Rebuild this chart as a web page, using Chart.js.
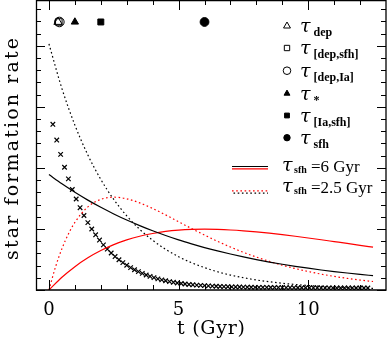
<!DOCTYPE html>
<html><head><meta charset="utf-8">
<script src="https://cdn.jsdelivr.net/npm/chart.js@4.4.0/dist/chart.umd.min.js"></script>
<style>html,body{margin:0;padding:0;background:#fff}#wrap{width:388px;height:341px;position:relative}</style>
</head><body><div id="wrap"><canvas id="c"></canvas></div>
<script>
// time grid (Gyr) for the smooth curves
const curveT = [0,0.5,1,1.5,2,2.5,3,3.5,4,4.5,5,5.5,6,6.5,7,7.5,8,8.5,9,9.5,10,10.5,11,11.5,12,12.5];
// black solid: tau_sfh = 6 Gyr, exponential
const expSfh6 = [1.890,1.739,1.600,1.472,1.354,1.246,1.146,1.055,0.970,0.893,0.821,0.756,0.695,0.640,0.589,0.542,0.498,0.458,0.422,0.388,0.357,0.328,0.302,0.278,0.256,0.235];
// black dotted: tau_sfh = 2.5 Gyr, exponential
const expSfh25 = [4.030,3.299,2.701,2.212,1.811,1.483,1.214,0.994,0.814,0.666,0.545,0.447,0.366,0.299,0.245,0.201,0.164,0.135,0.110,0.090,0.074,0.060,0.050,0.041,0.033,0.027];
// red solid: tau_sfh = 6 Gyr, delayed
const delSfh6 = [0,0.208,0.382,0.527,0.646,0.743,0.821,0.881,0.926,0.959,0.980,0.992,0.996,0.992,0.983,0.969,0.951,0.930,0.906,0.880,0.852,0.823,0.793,0.763,0.732,0.702];
// red dotted: tau_sfh = 2.5 Gyr, delayed (denser grid at start)
const delT25 = [0,0.25,0.5,0.75,1,1.5,2,2.5,3,3.5,4,4.5,5,5.5,6,6.5,7,7.5,8,8.5,9,9.5,10,10.5,11,11.5,12,12.5];
const delSfh25 = [0,0.374,0.677,0.918,1.108,1.361,1.485,1.520,1.494,1.427,1.335,1.230,1.118,1.007,0.900,0.798,0.704,0.617,0.539,0.469,0.406,0.351,0.303,0.260,0.223,0.191,0.163,0.139];
// crosses, one every 0.15 Gyr starting at 0.15 Gyr
const crossValues = [2.714,2.456,2.222,2.011,1.820,1.646,1.490,1.348,1.220,1.104,0.999,0.904,0.818,0.740,0.669,0.606,0.548,0.496,0.449,0.406,0.367,0.332,0.301,0.272,0.246,0.223,0.202,0.183,0.166,0.151,0.138,0.126,0.115,0.106,0.098,0.091,0.085,0.080,0.075,0.071,0.067,0.064,0.061,0.058,0.056,0.054,0.052,0.050,0.049,0.047,0.046,0.045,0.044,0.043,0.042,0.042,0.041,0.040,0.040,0.039,0.039,0.038,0.038,0.037,0.037,0.037,0.036,0.036,0.036,0.035,0.035,0.035,0.035,0.034,0.034,0.034,0.034,0.034,0.033,0.033,0.033,0.033];
const crossT = crossValues.map((v, i) => +(0.15 * (i + 1)).toFixed(2));
// timescale markers along the top
const markerNames = ['dep', '[dep,sfh]', '[dep,Ia]', '*', '[Ia,sfh]', 'sfh'];
const markerT = [0.35, 0.38, 0.40, 1.0, 2.0, 6.0];
const markerY = [4.39, 4.39, 4.39, 4.39, 4.39, 4.39];
const markerStyles = ['triangle', 'rect', 'circle', 'triangle', 'rect', 'circle'];
const markerFilled = [false, false, false, true, true, true];
const xTickValues = [0, 5, 10];
const xTickLabels = ['0', '5', '10'];
const lineLegend = ['=6 Gyr', '=2.5 Gyr'];

const pts = (xs, ys) => xs.map((x, i) => ({x, y: ys[i]}));
const DOT = [1.6, 2.6];

const frame = {
  id: 'frame',
  afterDraw(chart) {
    const ctx = chart.ctx, xs = chart.scales.x, ys = chart.scales.y;
    ctx.save();
    ctx.strokeStyle = '#000';
    ctx.lineWidth = 1.3;
    ctx.beginPath();
    ctx.moveTo(36.5, 0.5); ctx.lineTo(386, 0.5); ctx.lineTo(386, 290); ctx.lineTo(36.5, 290); ctx.closePath();
    ctx.stroke();
    ctx.lineWidth = 1;
    ctx.beginPath();
    for (let t = 0; t <= 12; t++) {
      const px = Math.round(xs.getPixelForValue(t)) + 0.5;
      const len = t % 5 === 0 ? 10 : 5;
      ctx.moveTo(px, 290); ctx.lineTo(px, 290 - len);
      ctx.moveTo(px, 0); ctx.lineTo(px, len);
    }
    for (let i = 0; i <= 23; i++) {
      const py = Math.round(ys.getPixelForValue(i * 0.2)) + 0.5;
      const len = i % 5 === 0 ? 9 : 5;
      ctx.moveTo(36, py); ctx.lineTo(36 + len, py);
      ctx.moveTo(386, py); ctx.lineTo(386 - len, py);
    }
    ctx.stroke();

    // tick labels
    ctx.fillStyle = '#000';
    ctx.textAlign = 'center';
    ctx.textBaseline = 'alphabetic';
    ctx.font = '18px "DejaVu Serif"';
    xTickValues.forEach((v, i) => ctx.fillText(xTickLabels[i], xs.getPixelForValue(v), 315));
    // x title
    ctx.font = '19px "DejaVu Serif"';
    ctx.textAlign = 'left';
    fitText(ctx, 't (Gyr)', 177, 334, 68);
    // y title
    ctx.save();
    ctx.translate(18, 149);
    ctx.rotate(-Math.PI / 2);
    ctx.font = '19px "DejaVu Serif"';
    fitText(ctx, 'star formation rate', -111, 0, 222);
    ctx.restore();

    // symbol legend
    const rowsY = [26, 48, 70.7, 93.5, 115.5, 137.7];
    const symR = [4, 3.8, 3.8, 3.4, 3.4, 3.2];
    markerNames.forEach((name, i) => {
      ctx.strokeStyle = '#000';
      ctx.fillStyle = markerFilled[i] ? '#000' : 'rgba(0,0,0,0)';
      Chart.helpers.drawPoint(ctx, {pointStyle: markerStyles[i], radius: symR[i], borderWidth: 1, rotation: 0}, 287, rowsY[i]);
      ctx.fillStyle = '#000';
      ctx.textAlign = 'left';
      ctx.font = 'italic 19px "DejaVu Serif"';
      ctx.fillText('\u03C4', 300, rowsY[i] + 6);
      ctx.font = 'bold 12px "Liberation Serif"';
      ctx.fillText(name, 313.5, rowsY[i] + 10);
    });

    // line legend
    ctx.lineWidth = 1.2;
    ctx.setLineDash([]);
    ctx.strokeStyle = '#000';
    ctx.beginPath(); ctx.moveTo(232, 166.5); ctx.lineTo(268, 166.5); ctx.stroke();
    ctx.strokeStyle = '#f00';
    ctx.beginPath(); ctx.moveTo(232, 168.8); ctx.lineTo(268, 168.8); ctx.stroke();
    ctx.setLineDash(DOT);
    ctx.strokeStyle = '#f00';
    ctx.beginPath(); ctx.moveTo(232, 190.8); ctx.lineTo(268, 190.8); ctx.stroke();
    ctx.strokeStyle = '#000';
    ctx.beginPath(); ctx.moveTo(233.5, 193.2); ctx.lineTo(268, 193.2); ctx.stroke();
    ctx.setLineDash([]);
    const lineY = [172, 192.5];
    lineLegend.forEach((txt, i) => {
      const y = lineY[i];
      ctx.fillStyle = '#000';
      ctx.textAlign = 'left';
      ctx.font = 'italic 19px "DejaVu Serif"';
      ctx.fillText('\u03C4', 282, y - 1);
      ctx.font = 'bold 10px "Liberation Serif"';
      ctx.fillText('sfh', 294, y + 1);
      ctx.font = '17px "Liberation Serif"';
      ctx.fillText(txt, 311, y);
    });
    ctx.restore();
  }
};

function fitText(ctx, s, x, y, w) {
  const m = ctx.measureText(s).width;
  if ('letterSpacing' in ctx && s.length > 1) {
    ctx.letterSpacing = ((w - m) / (s.length - 1)).toFixed(2) + 'px';
    ctx.fillText(s, x, y);
    ctx.letterSpacing = '0px';
  } else {
    ctx.fillText(s, x, y);
  }
}

new Chart(document.getElementById('c'), {
  type: 'scatter',
  data: {
    datasets: [
      {data: pts(curveT, expSfh6), showLine: true, borderColor: '#000', borderWidth: 1.2, pointRadius: 0, cubicInterpolationMode: 'monotone'},
      {data: pts(curveT, expSfh25), showLine: true, borderColor: '#000', borderWidth: 1.2, borderDash: DOT, pointRadius: 0, cubicInterpolationMode: 'monotone'},
      {data: pts(curveT, delSfh6), showLine: true, borderColor: '#f00', borderWidth: 1.2, pointRadius: 0, cubicInterpolationMode: 'monotone'},
      {data: pts(delT25, delSfh25), showLine: true, borderColor: '#f00', borderWidth: 1.2, borderDash: DOT, pointRadius: 0, cubicInterpolationMode: 'monotone'},
      {data: pts(crossT, crossValues), showLine: false, pointStyle: 'crossRot', pointRadius: 3.2, borderColor: '#000', borderWidth: 1.2},
      {data: pts(markerT, markerY), showLine: false, pointStyle: markerStyles,
        pointRadius: [4.8, 4.6, 4.8, 4.2, 4.2, 4.4],
        backgroundColor: markerFilled.map(f => f ? '#000' : 'rgba(0,0,0,0)'),
        borderColor: '#000', borderWidth: 1, clip: false}
    ]
  },
  options: {
    responsive: true, maintainAspectRatio: false, animation: false,
    layout: {autoPadding: false, padding: {left: 36, right: 2, top: 0, bottom: 51}},
    plugins: {legend: {display: false}, tooltip: {enabled: false}},
    scales: {
      x: {type: 'linear', min: -0.5, max: 13, display: false},
      y: {type: 'linear', min: 0, max: 4.75, display: false}
    }
  },
  plugins: [frame]
});
</script>
</body></html>
